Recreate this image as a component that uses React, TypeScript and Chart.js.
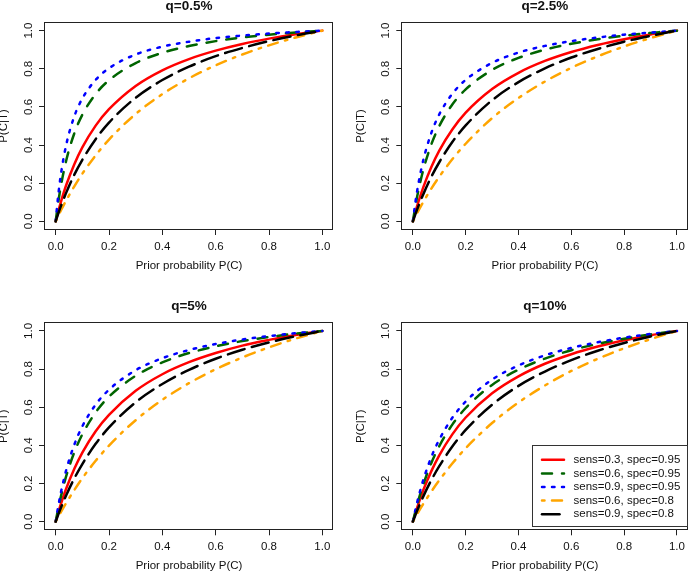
import React, { useEffect, useRef } from "react";
import { Chart, registerables } from "chart.js";

Chart.register(...registerables);

// ---------- data ----------
const priorX = [0, 0.01, 0.02, 0.04, 0.07, 0.1, 0.15, 0.2, 0.3, 0.4, 0.5, 0.6, 0.7, 0.8, 0.9, 1];
const tickValues = [0, 0.2, 0.4, 0.6, 0.8, 1.0];
const panelTitles = ["q=0.5%", "q=2.5%", "q=5%", "q=10%"];
const xAxisTitle = "Prior probability P(C)";
const yAxisTitle = "P(C|T)";
const seriesLabels = [
  "sens=0.3, spec=0.95",
  "sens=0.6, spec=0.95",
  "sens=0.9, spec=0.95",
  "sens=0.6, spec=0.8",
  "sens=0.9, spec=0.8",
];

// q = 0.5%
const q05Red = [0, 0.054, 0.104, 0.192, 0.3, 0.388, 0.502, 0.588, 0.71, 0.792, 0.851, 0.895, 0.93, 0.958, 0.981, 1];
const q05Green = [0, 0.103, 0.189, 0.322, 0.462, 0.559, 0.668, 0.74, 0.83, 0.884, 0.919, 0.945, 0.964, 0.979, 0.99, 1];
const q05Blue = [0, 0.141, 0.25, 0.404, 0.551, 0.644, 0.742, 0.803, 0.875, 0.916, 0.942, 0.961, 0.974, 0.985, 0.993, 1];
const q05Orange = [0, 0.029, 0.058, 0.111, 0.184, 0.25, 0.346, 0.429, 0.563, 0.667, 0.75, 0.818, 0.875, 0.923, 0.964, 1];
const q05Black = [0, 0.042, 0.081, 0.152, 0.245, 0.323, 0.431, 0.518, 0.648, 0.741, 0.811, 0.866, 0.909, 0.945, 0.975, 1];

// q = 2.5%
const q25Red = [0, 0.051, 0.098, 0.181, 0.285, 0.371, 0.483, 0.57, 0.694, 0.779, 0.841, 0.888, 0.925, 0.955, 0.98, 1];
const q25Green = [0, 0.083, 0.155, 0.273, 0.404, 0.5, 0.614, 0.692, 0.794, 0.857, 0.9, 0.931, 0.955, 0.973, 0.988, 1];
const q25Blue = [0, 0.104, 0.19, 0.324, 0.464, 0.561, 0.67, 0.742, 0.831, 0.885, 0.92, 0.945, 0.964, 0.979, 0.99, 1];
const q25Orange = [0, 0.027, 0.053, 0.103, 0.172, 0.234, 0.327, 0.407, 0.541, 0.647, 0.733, 0.805, 0.865, 0.917, 0.961, 1];
const q25Black = [0, 0.039, 0.076, 0.144, 0.234, 0.31, 0.417, 0.503, 0.635, 0.73, 0.802, 0.859, 0.904, 0.942, 0.973, 1];

// q = 5%
const q5Red = [0, 0.049, 0.094, 0.175, 0.277, 0.362, 0.474, 0.56, 0.686, 0.773, 0.836, 0.884, 0.923, 0.953, 0.979, 1];
const q5Green = [0, 0.071, 0.134, 0.241, 0.364, 0.458, 0.573, 0.655, 0.765, 0.835, 0.884, 0.919, 0.947, 0.968, 0.986, 1];
const q5Blue = [0, 0.083, 0.155, 0.273, 0.404, 0.5, 0.614, 0.692, 0.794, 0.857, 0.9, 0.931, 0.955, 0.973, 0.988, 1];
const q5Orange = [0, 0.026, 0.051, 0.099, 0.166, 0.228, 0.319, 0.399, 0.532, 0.639, 0.726, 0.799, 0.861, 0.914, 0.96, 1];
const q5Black = [0, 0.038, 0.074, 0.14, 0.227, 0.302, 0.408, 0.494, 0.626, 0.722, 0.796, 0.854, 0.901, 0.94, 0.972, 1];

// q = 10%
const q10Red = [0, 0.046, 0.089, 0.167, 0.265, 0.348, 0.459, 0.546, 0.673, 0.762, 0.828, 0.878, 0.918, 0.951, 0.977, 1];
const q10Green = [0, 0.056, 0.108, 0.197, 0.308, 0.396, 0.51, 0.596, 0.717, 0.797, 0.855, 0.899, 0.932, 0.959, 0.982, 1];
const q10Blue = [0, 0.064, 0.122, 0.221, 0.339, 0.43, 0.546, 0.63, 0.745, 0.819, 0.872, 0.911, 0.941, 0.965, 0.984, 1];
const q10Orange = [0, 0.025, 0.049, 0.094, 0.158, 0.217, 0.306, 0.385, 0.517, 0.625, 0.714, 0.79, 0.854, 0.909, 0.957, 1];
const q10Black = [0, 0.036, 0.07, 0.134, 0.218, 0.291, 0.395, 0.481, 0.613, 0.712, 0.787, 0.847, 0.896, 0.937, 0.971, 1];

const panelSeries = [
  [q05Red, q05Green, q05Blue, q05Orange, q05Black],
  [q25Red, q25Green, q25Blue, q25Orange, q25Black],
  [q5Red, q5Green, q5Blue, q5Orange, q5Black],
  [q10Red, q10Green, q10Blue, q10Orange, q10Black],
];

// ---------- styles / layout ----------
const FONT = "'Liberation Sans', Arial, Helvetica, sans-serif";
const LINE_W = 2.5;
const seriesStyles = [
  { color: "#FF0000", dash: [] as number[] },
  { color: "#006400", dash: [10, 10] },
  { color: "#0000FF", dash: [2.5, 7.5] },
  { color: "#FFA500", dash: [2.5, 7.5, 10, 7.5] },
  { color: "#000000", dash: [17.5, 7.5] },
];

const panelLayouts = [
  { left: 0, top: 0, width: 345, height: 286, yAxisW: 45, padRight: 12, padTop: 23, xAxisH: 57, legend: false },
  { left: 345, top: 0, width: 345, height: 286, yAxisW: 57.3, padRight: 1, padTop: 23, xAxisH: 57, legend: false },
  { left: 0, top: 286, width: 345, height: 287, yAxisW: 45, padRight: 12, padTop: 37.3, xAxisH: 43.7, legend: false },
  { left: 345, top: 286, width: 345, height: 287, yAxisW: 57.3, padRight: 1, padTop: 37.3, xAxisH: 43.7, legend: true },
];

const decorPlugin = {
  id: "rdecor",
  afterDraw(chart: any) {
    const opts = chart.options.plugins.rdecor || {};
    const { ctx, chartArea: ca } = chart;
    ctx.save();
    // plot box
    ctx.strokeStyle = "#222";
    ctx.lineWidth = 1;
    const l = Math.round(ca.left) - 0.5;
    const t = Math.round(ca.top) - 0.5;
    const r = Math.round(ca.right) - 0.5;
    const b = Math.round(ca.bottom) + 0.5;
    ctx.strokeRect(l, t, r - l, b - t);

    ctx.fillStyle = "#111";
    // title
    ctx.font = `bold 13.5px ${FONT}`;
    ctx.textAlign = "center";
    ctx.textBaseline = "middle";
    ctx.fillText(opts.title, (ca.left + ca.right) / 2, ca.top - 16.8);

    // x axis title
    ctx.font = `11.5px ${FONT}`;
    ctx.fillText(xAxisTitle, (ca.left + ca.right) / 2, ca.bottom + 37);

    // y axis title
    ctx.save();
    ctx.translate(ca.left - 41, (ca.top + ca.bottom) / 2);
    ctx.rotate(-Math.PI / 2);
    ctx.fillText(yAxisTitle, 0, 0);
    ctx.restore();

    // y tick labels (rotated, like R's las=0)
    const ys = chart.scales.y;
    ys.ticks.forEach((tk: any) => {
      const py = ys.getPixelForValue(tk.value);
      ctx.save();
      ctx.translate(ca.left - 16.5, py);
      ctx.rotate(-Math.PI / 2);
      ctx.fillText(Number(tk.value).toFixed(1), 0, 0);
      ctx.restore();
    });

    // legend
    if (opts.legend) {
      const lw = 155;
      const lh = 81;
      const lx = Math.round(ca.right - 1 - lw) + 0.5;
      const ly = Math.round(ca.bottom - 3 - lh) + 0.5;
      ctx.fillStyle = "#fff";
      ctx.fillRect(lx, ly, lw, lh);
      ctx.strokeStyle = "#333";
      ctx.lineWidth = 1;
      ctx.strokeRect(lx, ly, lw, lh);
      chart.data.datasets.forEach((ds: any, i: number) => {
        const ry = ly + 14.3 + i * 13.6;
        ctx.save();
        ctx.strokeStyle = ds.borderColor;
        ctx.lineWidth = LINE_W;
        ctx.lineCap = "round";
        ctx.setLineDash(ds.borderDash || []);
        ctx.beginPath();
        ctx.moveTo(lx + 9.5, ry);
        ctx.lineTo(lx + 31.5, ry);
        ctx.stroke();
        ctx.restore();
        ctx.fillStyle = "#111";
        ctx.font = `11.5px ${FONT}`;
        ctx.textAlign = "left";
        ctx.textBaseline = "middle";
        ctx.fillText(ds.label, lx + 41, ry);
      });
    }
    ctx.restore();
  },
};

function Panel({ index }: { index: number }) {
  const ref = useRef<HTMLCanvasElement | null>(null);
  const p = panelLayouts[index];
  useEffect(() => {
    if (!ref.current) return;
    const series = panelSeries[index];
    const chart = new Chart(ref.current, {
      type: "line",
      data: {
        datasets: seriesLabels.map((label, i) => ({
          label,
          data: priorX.map((x, j) => ({ x, y: series[i][j] })),
          borderColor: seriesStyles[i].color,
          borderDash: seriesStyles[i].dash,
          borderWidth: LINE_W,
          borderCapStyle: "round",
          borderJoinStyle: "round",
          pointRadius: 0,
          cubicInterpolationMode: "monotone",
          fill: false,
          order: 5 - i,
        })),
      },
      options: {
        animation: false,
        responsive: false,
        devicePixelRatio: 1,
        events: [],
        layout: { padding: { left: 0, right: p.padRight, top: p.padTop, bottom: 0 } },
        plugins: {
          legend: { display: false },
          tooltip: { enabled: false },
          rdecor: { title: panelTitles[index], legend: p.legend },
        } as any,
        scales: {
          x: {
            type: "linear",
            min: -0.04,
            max: 1.04,
            afterBuildTicks: (s: any) => {
              s.ticks = tickValues.map((v) => ({ value: v }));
            },
            afterFit: (s: any) => {
              s.height = p.xAxisH;
            },
            grid: { drawOnChartArea: false, drawTicks: true, tickLength: 6, color: "#222", tickColor: "#222", lineWidth: 1 },
            border: { display: false },
            ticks: {
              font: { family: FONT, size: 11.5 },
              color: "#111",
              padding: 5,
              maxRotation: 0,
              minRotation: 0,
              autoSkip: false,
              callback: (v: any) => Number(v).toFixed(1),
            },
          },
          y: {
            type: "linear",
            min: -0.04,
            max: 1.04,
            afterBuildTicks: (s: any) => {
              s.ticks = tickValues.map((v) => ({ value: v }));
            },
            afterFit: (s: any) => {
              s.width = p.yAxisW;
            },
            grid: { drawOnChartArea: false, drawTicks: true, tickLength: 6, color: "#222", tickColor: "#222", lineWidth: 1 },
            border: { display: false },
            ticks: { display: false },
          },
        },
      } as any,
      plugins: [decorPlugin as any],
    });
    return () => chart.destroy();
  }, [index]);
  return (
    <div style={{ position: "absolute", left: p.left, top: p.top, width: p.width, height: p.height }}>
      <canvas ref={ref} width={p.width} height={p.height} style={{ display: "block" }} />
    </div>
  );
}

export default function App() {
  return (
    <div style={{ position: "absolute", left: 0, top: 0, width: 690, height: 573, background: "#fff", overflow: "hidden" }}>
      {[0, 1, 2, 3].map((i) => (
        <Panel key={i} index={i} />
      ))}
    </div>
  );
}
